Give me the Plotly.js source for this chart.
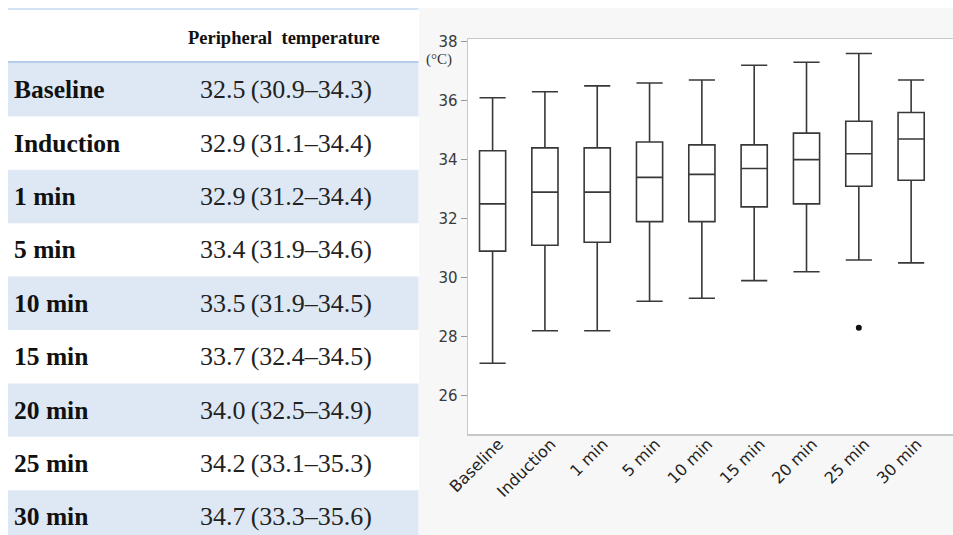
<!DOCTYPE html>
<html>
<head>
<meta charset="utf-8">
<script src="https://cdn.plot.ly/plotly-3.0.1.min.js"></script>
<style>html,body{margin:0;padding:0;background:#fff;}#chart{width:953px;height:535px;}</style>
</head>
<body>
<div id="chart"></div>
<script>
// ---- data ----
const categories = ['Baseline', 'Induction', '1 min', '5 min', '10 min', '15 min', '20 min', '25 min', '30 min'];
const medians = [32.5, 32.9, 32.9, 33.4, 33.5, 33.7, 34.0, 34.2, 34.7];
const q1Values = [30.9, 31.1, 31.2, 31.9, 31.9, 32.4, 32.5, 33.1, 33.3];
const q3Values = [34.3, 34.4, 34.4, 34.6, 34.5, 34.5, 34.9, 35.3, 35.6];
const lowerWhiskers = [27.1, 28.2, 28.2, 29.2, 29.3, 29.9, 30.2, 30.6, 30.5];
const upperWhiskers = [36.1, 36.3, 36.5, 36.6, 36.7, 37.2, 37.3, 37.6, 36.7];
const outlierCategories = ['25 min'];
const outlierValues = [28.3];
const yTickValues = [26, 28, 30, 32, 34, 36, 38];
const tableHeader = 'Peripheral&nbsp; temperature';
const unitLabel = '(°C)';

// ---- geometry helpers ----
const W = 953, H = 535, L = 468, T = 39, B = 101, R = 0;
const PW = W - L - R, PH = H - T - B;
const px = v => (v - L) / PW;
const py = v => (H - B - v) / PH;

const shapes = [];
const annotations = [];

// table
const rowTop = 63, rowH = 53.4, tableLeft = 8, tableRight = 418.5;
categories.forEach((c, i) => {
  const top = rowTop + rowH * i, bot = Math.min(H, top + rowH);
  if (i % 2 === 0) {
    shapes.push({type: 'rect', xref: 'paper', yref: 'paper', layer: 'below',
      x0: px(tableLeft), x1: px(tableRight), y0: py(bot), y1: py(top),
      fillcolor: '#dee8f5', line: {width: 0}});
  }
  const cy = py(top + rowH / 2);
  annotations.push({xref: 'paper', yref: 'paper', x: px(12), y: cy, xanchor: 'left', yanchor: 'middle',
    showarrow: false, text: '<b>' + c + '</b>',
    font: {family: 'Liberation Serif, Times New Roman, serif', size: 25.5, color: '#111'}});
  annotations.push({xref: 'paper', yref: 'paper', x: px(286), y: cy, xanchor: 'center', yanchor: 'middle',
    showarrow: false,
    text: medians[i].toFixed(1) + '\u2009(' + q1Values[i].toFixed(1) + '–' + q3Values[i].toFixed(1) + ')',
    font: {family: 'Liberation Serif, Times New Roman, serif', size: 26, color: '#222'}});
});
shapes.push({type: 'line', xref: 'paper', yref: 'paper', layer: 'below',
  x0: px(tableLeft), x1: px(tableRight), y0: py(9), y1: py(9), line: {color: '#c4d9f0', width: 1.5}});
shapes.push({type: 'line', xref: 'paper', yref: 'paper', layer: 'below',
  x0: px(tableLeft), x1: px(tableRight), y0: py(62), y1: py(62), line: {color: '#b3cdeb', width: 2}});
annotations.push({xref: 'paper', yref: 'paper', x: px(284), y: py(38), xanchor: 'center', yanchor: 'middle',
  showarrow: false, text: '<b>' + tableHeader + '</b>',
  font: {family: 'Liberation Serif, Times New Roman, serif', size: 18.5, color: '#111'}});

// chart panel background
shapes.push({type: 'rect', xref: 'paper', yref: 'paper', layer: 'below',
  x0: px(419), x1: px(W + 2), y0: py(H + 2), y1: py(8), fillcolor: '#f7f7f7', line: {width: 0}});
shapes.push({type: 'rect', xref: 'paper', yref: 'paper', layer: 'below',
  x0: 0, x1: 1.01, y0: 0, y1: 1, fillcolor: '#ffffff', line: {width: 0}});

annotations.push({xref: 'paper', yref: 'paper', x: px(439), y: py(60), xanchor: 'center', yanchor: 'middle',
  showarrow: false, text: unitLabel,
  font: {family: 'Liberation Serif, Times New Roman, serif', size: 15, color: '#333'}});

const traces = [
  {
    type: 'box',
    x: categories,
    q1: q1Values,
    median: medians,
    q3: q3Values,
    lowerfence: lowerWhiskers,
    upperfence: upperWhiskers,
    width: 0.5,
    whiskerwidth: 1,
    fillcolor: '#ffffff',
    line: {color: '#383838', width: 1.6},
    boxpoints: false,
    hoverinfo: 'skip',
    showlegend: false
  },
  {
    type: 'scatter',
    mode: 'markers',
    x: outlierCategories,
    y: outlierValues,
    marker: {color: '#111', size: 6},
    showlegend: false,
    hoverinfo: 'skip'
  }
];

const layout = {
  width: W, height: H,
  margin: {l: L, r: R, t: T, b: B, pad: 0},
  paper_bgcolor: '#ffffff',
  plot_bgcolor: 'rgba(0,0,0,0)',
  showlegend: false,
  xaxis: {
    type: 'category',
    categoryorder: 'array',
    categoryarray: categories,
    range: [-0.47, 8.8],
    showgrid: false, zeroline: false,
    showline: true, mirror: true, linecolor: '#c8c8c8', linewidth: 1.5,
    ticks: '', tickangle: -45, ticklabelstandoff: -7, ticklabelshift: 6,
    tickfont: {family: 'DejaVu Sans, sans-serif', size: 16, color: '#222'}
  },
  yaxis: {
    range: [24.7, 38.09],
    tickvals: yTickValues,
    ticktext: yTickValues.map(String),
    showgrid: false, zeroline: false,
    showline: true, linecolor: '#c8c8c8', linewidth: 1.5,
    ticks: 'outside', ticklen: 6, tickwidth: 1, tickcolor: '#9a9a9a',
    tickfont: {family: 'DejaVu Sans, sans-serif', size: 15, color: '#3a3a3a'}
  },
  shapes: shapes,
  annotations: annotations
};

Plotly.newPlot('chart', traces, layout, {staticPlot: true, displayModeBar: false});
</script>
</body>
</html>
